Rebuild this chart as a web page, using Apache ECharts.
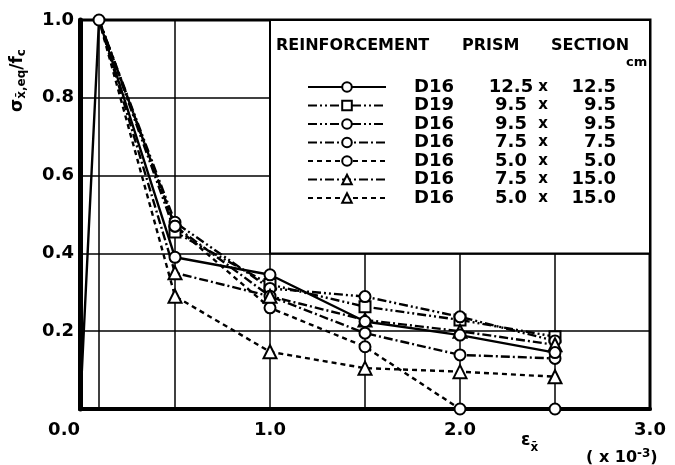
<!DOCTYPE html>
<html>
<head>
<meta charset="utf-8">
<script src="https://cdn.jsdelivr.net/npm/echarts@6/dist/echarts.min.js"></script>
<style>
html, body { margin: 0; padding: 0; background: #fff; }
#chart { width: 675px; height: 465px; }
</style>
</head>
<body>
<div id="chart"></div>
<script>
// strain (x10^-3) at which the points were measured
const loadStrain = [0, 0.1];
const strain = [0.1, 0.5, 1.0, 1.5, 2.0, 2.5];

// legend columns
const rebar = ['D16', 'D19', 'D16', 'D16', 'D16', 'D16', 'D16'];
const sectionA = ['12.5', '9.5', '9.5', '7.5', '5.0', '7.5', '5.0'];
const sectionB = ['12.5', '9.5', '9.5', '7.5', '5.0', '15.0', '15.0'];

// sigma_x,eq / fc
const rLoad = [0, 1.0];
const r125x125 = [1.0, 0.39, 0.345, 0.225, 0.19, 0.145];
const r95x95D19 = [1.0, 0.455, 0.32, 0.263, 0.229, 0.186];
const r95x95 = [1.0, 0.48, 0.31, 0.289, 0.237, 0.175];
const r75x75 = [1.0, 0.47, 0.29, 0.195, 0.139, 0.13];
const r50x50 = [1.0, 0.47, 0.26, 0.16, 0.0, 0.0];
const r75x150 = [1.0, 0.35, 0.29, 0.229, 0.2, 0.165];
const r50x150 = [1.0, 0.29, 0.147, 0.105, 0.096, 0.083];

const xTicks = ['0.0', '1.0', '2.0', '3.0'];

const values = [r125x125, r95x95D19, r95x95, r75x75, r50x50, r75x150, r50x150];
const symbols = ['circle', 'rect', 'circle', 'circle', 'circle', 'triangle', 'triangle'];
const dashes = [
  'solid',
  [9, 3, 2, 3, 2, 3],
  [9, 3, 2, 3, 2, 3],
  [9, 3, 2, 3],
  [5, 4],
  [9, 3, 2, 3],
  [5, 4]
];

const chart = echarts.init(document.getElementById('chart'));
const FONT = 'DejaVu Sans';

const series = values.map((vals, i) => {
  let data = strain.map((x, k) => {
    // only the first curve shows the peak marker
    if (i > 0 && k === 0) return { value: [x, vals[k]], symbol: 'none' };
    return [x, vals[k]];
  });
  if (i === 0) {
    const pre = loadStrain.slice(0, 1).map((x, k) => ({ value: [x, rLoad[k]], symbol: 'none' }));
    data = pre.concat(data);
  }
  const s = {
    name: rebar[i] + ' ' + sectionA[i] + ' x ' + sectionB[i],
    type: 'line',
    data: data,
    symbol: symbols[i],
    symbolSize: symbols[i] === 'triangle' ? 13 : 11,
    z: i === 0 ? 5 : 3,
    lineStyle: { color: '#000', width: 2.4, type: dashes[i] },
    itemStyle: { color: '#fff', borderColor: '#000', borderWidth: 2 },
    animation: false
  };
  if (i === 0) {
    s.markLine = {
      silent: true,
      symbol: 'none',
      label: { show: false },
      lineStyle: { color: '#000', type: 'solid', width: 1.5 },
      data: [{ xAxis: loadStrain[1] }]
    };
    // legend box
    s.markArea = {
      silent: true,
      itemStyle: { color: '#fff', borderColor: '#000', borderWidth: 2 },
      data: [[{ xAxis: 1.0, yAxis: 0.4 }, { xAxis: 3.0, yAxis: 1.0 }]]
    };
  }
  return s;
});

const option = {
  backgroundColor: '#fff',
  animation: false,
  grid: {
    left: 80, right: 25, top: 20, bottom: 56,
    show: true, borderColor: '#000', borderWidth: 3
  },
  xAxis: {
    type: 'value',
    min: 0, max: 3, interval: 0.5,
    axisLine: { show: true, lineStyle: { color: '#000', width: 4 } },
    axisTick: { show: false },
    splitLine: { show: true, lineStyle: { color: '#000', width: 1.5 } },
    axisLabel: {
      color: '#000', fontFamily: FONT, fontWeight: 'bold', fontSize: 18, margin: 12,
      alignMinLabel: 'right',
      formatter: v => {
        const t = v.toFixed(1);
        return xTicks.indexOf(t) >= 0 ? t : '';
      }
    }
  },
  yAxis: {
    type: 'value',
    min: 0, max: 1, interval: 0.2,
    axisLine: { show: true, lineStyle: { color: '#000', width: 5 } },
    axisTick: { show: false },
    splitLine: { show: true, lineStyle: { color: '#000', width: 1.5 } },
    axisLabel: {
      color: '#000', fontFamily: FONT, fontWeight: 'bold', fontSize: 18, margin: 6,
      formatter: v => v === 0 ? '' : v.toFixed(1)
    }
  },
  legend: {
    orient: 'vertical',
    left: 302, top: 73,
    itemWidth: 78, itemHeight: 12, itemGap: 0.5,
    selectedMode: false,
    z: 20,
    data: series.map(s => s.name),
    formatter: name => {
      const i = series.findIndex(s => s.name === name);
      return '{p|}{a|' + rebar[i] + '}{l|' + sectionA[i] + '}{x|x}{r|' + sectionB[i] + '}';
    },
    textStyle: {
      color: '#000', fontFamily: FONT, fontWeight: 'bold', fontSize: 18,
      rich: {
        p: { width: 23, lineHeight: 18 },
        a: { width: 75, lineHeight: 18, fontFamily: FONT, fontWeight: 'bold', fontSize: 18 },
        l: { width: 44, align: 'right', lineHeight: 18, fontFamily: FONT, fontWeight: 'bold', fontSize: 18 },
        x: { width: 20, align: 'center', lineHeight: 18, fontFamily: FONT, fontWeight: 'bold', fontSize: 15 },
        r: { width: 63, align: 'right', lineHeight: 18, fontFamily: FONT, fontWeight: 'bold', fontSize: 18 }
      }
    }
  },
  graphic: [
    {
      type: 'text', left: 276, top: 38, z: 100,
      style: { text: 'REINFORCEMENT', font: 'bold 16px ' + FONT, fill: '#000' }
    },
    {
      type: 'text', left: 462, top: 38, z: 100,
      style: { text: 'PRISM', font: 'bold 16px ' + FONT, fill: '#000' }
    },
    {
      type: 'text', left: 551, top: 38, z: 100,
      style: { text: 'SECTION', font: 'bold 16px ' + FONT, fill: '#000' }
    },
    {
      type: 'text', left: 626, top: 56, z: 100,
      style: { text: 'cm', font: 'bold 13px ' + FONT, fill: '#000' }
    },
    {
      type: 'text', x: 18, y: 112, rotation: Math.PI / 2, z: 100,
      style: {
        text: '{s|σ}{b|x\u0304,eq}{s|/f}{b|c}',
        textAlign: 'left', textVerticalAlign: 'middle',
        rich: {
          s: { font: 'bold 17px ' + FONT, fill: '#000', lineHeight: 22 },
          b: { font: 'bold 12px ' + FONT, fill: '#000', lineHeight: 22, padding: [8, 0, 0, 0] }
        }
      }
    },
    {
      type: 'text', left: 521, top: 428, z: 100,
      style: {
        text: '{e|ε}{b|x\u0304}',
        rich: {
          e: { font: 'bold 17px ' + FONT, fill: '#000', lineHeight: 20 },
          b: { font: 'bold 12px ' + FONT, fill: '#000', lineHeight: 20, padding: [14, 0, 0, 0] }
        }
      }
    },
    {
      type: 'text', left: 586, top: 448, z: 100,
      style: {
        text: '( x 10{u|-3})',
        font: 'bold 16px ' + FONT, fill: '#000',
        rich: {
          u: { font: 'bold 12px ' + FONT, fill: '#000', padding: [0, 0, 8, 0] }
        }
      }
    }
  ],
  series: series
};

chart.setOption(option);
</script>
</body>
</html>
